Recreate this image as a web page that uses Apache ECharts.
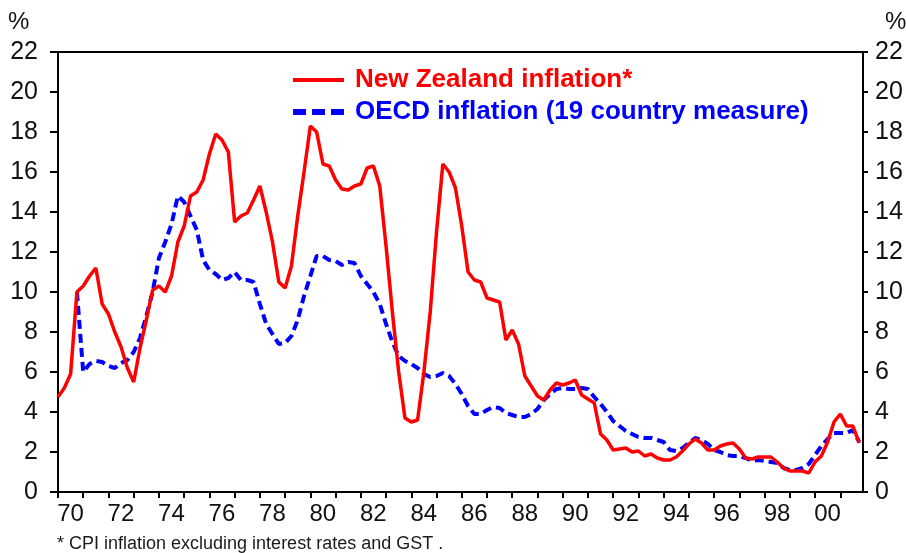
<!DOCTYPE html>
<html>
<head>
<meta charset="utf-8">
<script src="https://cdn.jsdelivr.net/npm/echarts@6/dist/echarts.min.js"></script>
<style>
  html, body { margin: 0; padding: 0; background: #fff; }
  #chart { width: 906px; height: 553px; }
</style>
</head>
<body>
<div id="chart"></div>
<script>
// quarterly observations, first one at 1970 Q1
var startYear = 1970;
var stepYears = 0.25;

// New Zealand CPI inflation ex interest & GST (%)
var nzInflation = [
    4.75, 5.2, 5.9, 10.0,
    10.3, 10.8, 11.2, 9.4,
    8.9, 8.0, 7.25, 6.2,
    5.5, 7.2, 8.6, 10.1,
    10.3, 10.0, 10.8, 12.5,
    13.3, 14.8, 15.0, 15.6,
    16.9, 17.9, 17.6, 17.0,
    13.5, 13.8, 13.95, 14.6,
    15.3, 14.0, 12.5, 10.5,
    10.2, 11.3, 13.8, 16.0,
    18.3, 18.0, 16.4, 16.3,
    15.6, 15.15, 15.1, 15.3,
    15.4, 16.2, 16.3, 15.3,
    12.3, 9.0, 6.0, 3.7,
    3.5, 3.6, 6.0, 9.0,
    13.0, 16.4, 16.0, 15.2,
    13.3, 11.0, 10.6, 10.5,
    9.7, 9.6, 9.5, 7.6,
    8.1, 7.4, 5.8, 5.3,
    4.8, 4.6, 5.1, 5.45,
    5.35, 5.45, 5.6, 4.85,
    4.65, 4.45, 2.9, 2.6,
    2.1, 2.15, 2.2, 2.0,
    2.05, 1.8, 1.9, 1.7,
    1.6, 1.6, 1.75, 2.05,
    2.4, 2.65, 2.45, 2.1,
    2.1, 2.3, 2.4, 2.45,
    2.15, 1.7, 1.65, 1.75,
    1.75, 1.75, 1.5, 1.2,
    1.05, 1.05, 1.05, 0.95,
    1.5, 1.8, 2.5, 3.5,
    3.9, 3.3, 3.3, 2.45
];

// OECD inflation, 19 country measure (%)
var oecdInflation = [
    null, null, null, 10.0,
    6.0, 6.4, 6.55, 6.5,
    6.3, 6.2, 6.45, 6.6,
    7.0, 7.7, 8.8, 10.0,
    11.7, 12.5, 13.4, 14.8,
    14.5, 13.8, 13.1, 11.6,
    11.1, 10.9, 10.6, 10.7,
    11.0, 10.6, 10.6, 10.5,
    9.4, 8.4, 7.9, 7.4,
    7.45, 7.8, 8.6, 9.8,
    10.8, 11.8, 11.8, 11.6,
    11.55, 11.35, 11.5, 11.45,
    10.8, 10.4, 10.0, 9.4,
    8.4, 7.5, 6.8, 6.55,
    6.4, 6.2, 5.9, 5.75,
    5.8, 5.95, 5.8, 5.4,
    4.9, 4.3, 3.9, 3.9,
    4.1, 4.25, 4.2, 3.95,
    3.85, 3.75, 3.75, 3.9,
    4.15, 4.6, 4.9, 5.15,
    5.2, 5.15, 5.15, 5.2,
    5.15, 4.75, 4.4, 4.0,
    3.55, 3.3, 3.05, 2.9,
    2.75, 2.7, 2.7, 2.6,
    2.5, 2.1, 2.05, 2.2,
    2.45, 2.7, 2.6, 2.4,
    2.1, 2.0, 1.85, 1.8,
    1.8, 1.7, 1.55, 1.6,
    1.55, 1.5, 1.45, 1.2,
    1.1, 1.1, 1.2, 1.4,
    1.85, 2.3, 2.65, 2.95,
    2.95, 2.95, 3.1, 2.5
];

var seriesNames = ['New Zealand inflation*', 'OECD inflation (19 country measure)'];
var yTicks = [0, 22, 2];      // min, max, step
var footnote = '* CPI inflation excluding interest rates and GST .';

var FONT = "'Liberation Sans', Arial, sans-serif";

function toPairs(values) {
    var out = [];
    for (var i = 0; i < values.length; i++) {
        out.push([startYear + i * stepYears, values[i]]);
    }
    return out;
}

var yAxisBase = function (pos, margin, tickLen) {
    return {
        type: 'value',
        position: pos,
        min: yTicks[0],
        max: yTicks[1],
        interval: yTicks[2],
        axisLine: { show: true, lineStyle: { color: '#000', width: 2 } },
        axisTick: { show: true, inside: false, length: tickLen, lineStyle: { color: '#000', width: 2 } },
        axisLabel: { color: '#111', fontSize: 25, fontFamily: FONT, margin: margin },
        splitLine: { show: false }
    };
};

var myChart = echarts.init(document.getElementById('chart'), null, { renderer: 'canvas' });
var option = {
    backgroundColor: '#fff',
    animation: false,
    grid: {
        left: 58, right: 43, top: 52, bottom: 61,
        show: true, borderColor: '#000', borderWidth: 2, backgroundColor: 'transparent'
    },
    legend: {
        orient: 'vertical',
        left: 290,
        top: 66,
        padding: 0,
        itemWidth: 51,
        itemHeight: 14,
        itemGap: 4,
        itemStyle: { opacity: 0 },
        textStyle: { fontSize: 26, fontWeight: 'bold', fontFamily: FONT, lineHeight: 28, padding: [0, 0, 0, 6] },
        data: [
            { name: seriesNames[0], textStyle: { color: '#ff0000' }, lineStyle: { width: 4 } },
            { name: seriesNames[1], textStyle: { color: '#0000ff' }, lineStyle: { width: 6, type: [13, 6] } }
        ]
    },
    xAxis: {
        type: 'value',
        position: 'bottom',
        min: 1970,
        max: 2001.9,
        interval: 1,
        axisLine: { show: true, onZero: false, lineStyle: { color: '#000', width: 2 } },
        axisTick: { show: true, inside: false, length: 6, lineStyle: { color: '#000', width: 2 } },
        axisLabel: {
            color: '#111',
            fontSize: 24,
            fontFamily: FONT,
            margin: 10,
            padding: [0, 0, 0, 25],
            showMaxLabel: false,
            formatter: function (v) {
                if (Math.round(v) === v && v % 2 === 0) return String(v).slice(2);
                return '';
            }
        },
        splitLine: { show: false }
    },
    yAxis: [yAxisBase('left', 20, 8), yAxisBase('right', 12, 5)],
    graphic: [
        { type: 'text', left: 8, top: 10, style: { text: '%', fontSize: 24, fontFamily: FONT, fill: '#111' } },
        { type: 'text', left: 885, top: 10, style: { text: '%', fontSize: 24, fontFamily: FONT, fill: '#111' } },
        { type: 'text', left: 57, top: 535, style: { text: footnote, fontSize: 18, fontFamily: FONT, fill: '#1a1a1a' } }
    ],
    series: [
        {
            name: seriesNames[1],
            type: 'line',
            yAxisIndex: 0,
            symbol: 'none',
            connectNulls: false,
            lineStyle: { color: '#0000ff', width: 4, type: [9, 5] },
            itemStyle: { color: '#0000ff' },
            z: 2,
            data: toPairs(oecdInflation)
        },
        {
            name: seriesNames[0],
            type: 'line',
            yAxisIndex: 0,
            symbol: 'none',
            lineStyle: { color: '#ff0000', width: 3.5 },
            itemStyle: { color: '#ff0000' },
            z: 3,
            data: toPairs(nzInflation)
        }
    ]
};
myChart.setOption(option);
</script>
</body>
</html>
